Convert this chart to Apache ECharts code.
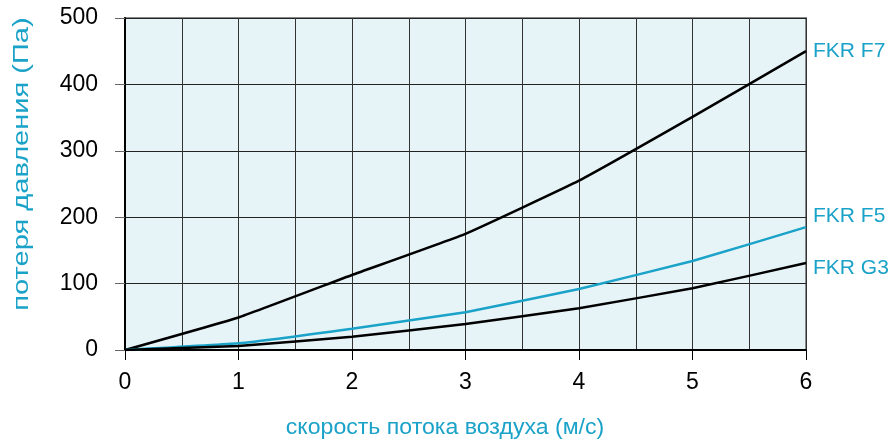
<!DOCTYPE html>
<html>
<head>
<meta charset="utf-8">
<script src="https://cdn.jsdelivr.net/npm/echarts@6/dist/echarts.min.js"></script>
<style>
  html, body { margin: 0; padding: 0; background: #fff; }
  #chart { width: 896px; height: 441px; }
</style>
</head>
<body>
<div id="chart"></div>
<script>
// скорость потока воздуха, м/с
const speeds = [0, 1, 2, 3, 4, 5, 6]
// потеря давления, Па
const fkrF7 = [0, 49, 113, 175, 255, 351, 450]
const fkrF5 = [0, 10, 32, 57, 92, 134, 185]
const fkrG3 = [0, 6, 20, 39, 63, 93, 131]
const yTicks = [0, 100, 200, 300, 400, 500]

const cyan = '#1aa2c8'
const font = '"Liberation Sans", Arial, sans-serif'

const chart = echarts.init(document.getElementById('chart'))

const pairs = vals => speeds.map((x, i) => [x, vals[i]])

const makeSeries = (name, vals, color, offsetY) => ({
  name,
  type: 'line',
  data: pairs(vals),
  symbol: 'none',
  smooth: 0.1,
  lineStyle: { color, width: 2.5 },
  endLabel: {
    show: true,
    formatter: '{a}',
    color: cyan,
    fontFamily: font,
    fontSize: 21,
    distance: 7,
    offset: [0, offsetY]
  },
  z: 5
})

chart.setOption({
  animation: false,
  grid: {
    left: 125, right: 90, top: 18, bottom: 91,
    show: true,
    backgroundColor: '#e6f4f7',
    borderColor: '#8a8a8a',
    borderWidth: 2
  },
  xAxis: {
    type: 'value',
    min: 0, max: 6, interval: 1,
    axisLine: { show: true, lineStyle: { color: '#000', width: 2 } },
    axisTick: { show: true, length: 10, lineStyle: { color: '#000', width: 1 } },
    axisLabel: { color: '#000', fontFamily: font, fontSize: 23, margin: 21 },
    splitLine: { show: true, lineStyle: { color: '#333', width: 1 } },
    minorTick: { show: false, splitNumber: 2 },
    minorSplitLine: { show: true, lineStyle: { color: '#333', width: 1 } }
  },
  yAxis: {
    type: 'value',
    min: yTicks[0], max: yTicks[yTicks.length - 1], interval: 100,
    axisLine: { show: true, lineStyle: { color: '#000', width: 2 } },
    axisTick: { show: true, length: 10, inside: false, lineStyle: { color: '#666', width: 1 } },
    axisLabel: { color: '#000', fontFamily: font, fontSize: 23, margin: 27 },
    splitLine: { show: true, lineStyle: { color: '#222', width: 1 } }
  },
  graphic: [
    {
      type: 'text',
      x: 22, y: 164,
      rotation: Math.PI / 2,
      scaleX: 1.32,
      style: {
        text: 'потеря давления (Па)',
        fill: cyan,
        font: '22px ' + font,
        align: 'center',
        verticalAlign: 'middle'
      }
    },
    {
      type: 'text',
      x: 445, y: 428,
      scaleX: 1.05,
      style: {
        text: 'скорость потока воздуха (м/с)',
        fill: cyan,
        font: '22px ' + font,
        align: 'center',
        verticalAlign: 'middle'
      }
    }
  ],
  series: [
    makeSeries('FKR F7', fkrF7, '#000', 0),
    makeSeries('FKR F5', fkrF5, cyan, -11),
    makeSeries('FKR G3', fkrG3, '#000', 5)
  ]
})
</script>
</body>
</html>
